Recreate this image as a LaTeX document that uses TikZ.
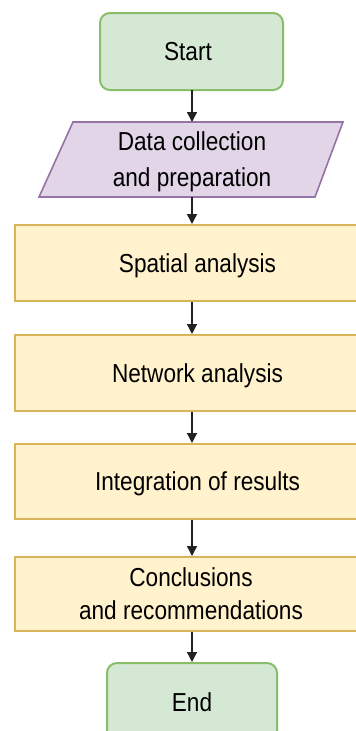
\documentclass[tikz,border=0pt]{standalone}
\usepackage{fontspec}
\setmainfont{Liberation Sans}
\newfontfamily\condfont[FakeStretch=0.87]{Liberation Sans}
\usetikzlibrary{arrows.meta,calc}
\definecolor{gfill}{HTML}{D5E8D4}
\definecolor{gdraw}{HTML}{88BE6A}
\definecolor{pfill}{HTML}{E1D5E7}
\definecolor{pdraw}{HTML}{9673A6}
\definecolor{yfill}{HTML}{FFF2CC}
\definecolor{ydraw}{HTML}{D6B656}
\definecolor{arr}{HTML}{222222}
\tikzset{
  txt/.style={font=\condfont\fontsize{26}{33}\selectfont, align=center, text=black, text depth=0pt},
  term/.style={txt, draw=gdraw, fill=gfill, line width=2pt, rounded corners=10pt, inner sep=0pt},
  proc/.style={txt, draw=ydraw, fill=yfill, line width=2pt, inner sep=0pt},
  conn/.style={draw=arr, line width=1.4pt, -{Triangle[length=10pt,width=10pt]}},
}
\begin{document}
\begin{tikzpicture}[x=1pt,y=-1pt]
\useasboundingbox (0,0) rectangle (356,731);
\clip (0,0) rectangle (356,731);
\fill[white] (0,0) rectangle (356,731);
% Start
\node[term, minimum width=183pt, minimum height=77pt] (start) at (191.5,51.5) {};
\node[txt] (starttxt) at (188,51.5) {Start};
% Data collection (parallelogram)
\draw[draw=pdraw, fill=pfill, line width=1.6pt] (73,122) -- (343,122) -- (315,197) -- (39,197) -- cycle;
\node[txt, font=\condfont\fontsize{26}{36}\selectfont, minimum width=236pt, minimum height=75pt, inner sep=0pt] (data) at (192,159.5) {Data collection\\and preparation};
% Process boxes
\node[proc, minimum width=365pt, minimum height=76pt] (spatial) at (197.5,263) {Spatial analysis};
\node[proc, minimum width=365pt, minimum height=76pt] (network) at (197.5,373) {Network analysis};
\node[proc, minimum width=365pt, minimum height=75pt] (integ) at (197.5,481.5) {Integration of results};
\node[proc, minimum width=365pt, minimum height=74pt] (concl) at (197.5,594) {};
\node[txt] (concltxt) at (191,594) {Conclusions\\and recommendations};
% End
\node[term, minimum width=170pt, minimum height=78pt] (end) at (192,702) {End};
% Connectors
\draw[conn] (192,90) -- (192,122);
\draw[conn] (data.south -| 192,0) -- (spatial.north -| 192,0);
\draw[conn] (spatial.south -| 192,0) -- (network.north -| 192,0);
\draw[conn] (network.south -| 192,0) -- (integ.north -| 192,0);
\draw[conn] (integ.south -| 192,0) -- (concl.north -| 192,0);
\draw[conn] (concl.south -| 192,0) -- (end.north -| 192,0);
\end{tikzpicture}
\end{document}
